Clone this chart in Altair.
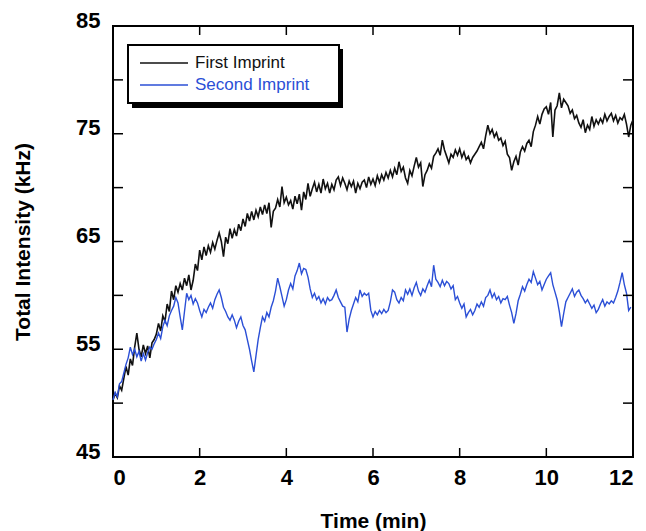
import altair as alt
import pandas as pd

# sampling: every 0.05 min
step = 0.05

first_imprint = [
    50.3, 50.9, 50.5, 51.6, 51.2,
    52.3, 53.4, 52.6, 54.1, 53.5,
    55.2, 56.5, 55.0, 54.3, 55.4,
    54.6, 55.3, 54.2, 55.6, 55.9,
    56.4, 57.4, 56.7, 58.1, 57.6,
    59.2, 58.5, 60.4, 59.6, 60.9,
    60.3, 61.1, 60.5, 61.6, 60.9,
    61.9, 60.5, 61.4, 62.9, 62.3,
    64.2, 63.3, 64.5, 63.7, 64.6,
    64.0, 64.9, 64.3, 65.1, 65.8,
    65.0, 63.6, 65.4, 64.8, 66.2,
    65.3, 66.1, 65.5, 66.6, 66.0,
    67.1, 66.4, 67.6, 66.9, 67.8,
    67.0, 67.9, 67.3, 68.2, 67.5,
    68.4, 67.6, 68.6, 66.3, 67.8,
    68.1, 68.9, 68.2, 70.1, 68.6,
    69.1, 68.4, 68.8, 68.0, 69.2,
    68.5, 69.4, 67.9, 69.6, 68.9,
    70.4, 69.2, 69.9, 70.5, 69.6,
    70.3, 69.5, 70.8, 69.9, 70.4,
    69.5, 70.3, 69.8, 70.7, 71.0,
    70.2, 70.9, 70.4, 69.8, 70.6,
    70.1, 70.6, 69.5, 70.4, 69.9,
    70.5, 70.7, 70.0, 71.0, 70.3,
    70.8, 70.2, 71.1, 70.5, 71.2,
    70.7, 71.4, 70.9, 71.6, 71.0,
    71.8, 71.2, 72.4, 71.5, 71.9,
    70.9, 70.4, 71.6, 71.1, 72.0,
    72.8, 71.9, 72.3, 70.1, 71.2,
    71.6, 72.2, 71.8, 72.9, 73.2,
    73.6, 73.0, 74.4, 73.5, 72.9,
    72.3, 73.1, 72.8, 73.5, 73.0,
    73.6, 72.8, 73.3, 72.6, 72.9,
    72.3, 72.8, 73.1, 73.4, 73.8,
    74.2, 73.6, 74.8, 75.8, 75.0,
    75.4, 74.7, 75.1, 74.4, 74.6,
    73.9, 74.3, 73.1, 72.8, 71.6,
    72.4, 72.9, 72.1, 73.3, 73.8,
    73.4, 74.1, 74.4, 73.8, 75.2,
    75.8, 76.6, 75.9, 76.8, 77.3,
    77.5, 76.8, 77.9, 74.7, 77.2,
    77.6, 78.8, 77.4, 78.2, 77.9,
    77.6, 76.9, 77.2, 76.4, 76.7,
    76.0, 75.6, 76.3, 75.1, 75.8,
    75.4, 76.6, 75.7, 76.3, 75.9,
    76.4, 76.0, 76.8, 76.2, 76.6,
    76.9, 76.2, 76.7, 76.0, 76.5,
    76.3, 76.8, 75.9, 74.7, 75.8,
    76.3,
]

second_imprint = [
    50.3, 51.0, 50.6, 51.8, 52.0,
    52.8, 53.6, 54.2, 55.2, 54.5,
    55.0, 54.3, 54.8, 53.9, 54.6,
    54.0, 54.7, 55.2, 55.0, 55.5,
    55.9, 56.5, 56.0, 57.1, 57.7,
    57.2, 58.1, 58.6, 59.0, 59.8,
    59.3, 58.0, 56.8, 58.5, 60.2,
    59.6, 60.0, 59.2, 59.7, 59.3,
    58.6, 58.0, 58.7, 58.4, 58.9,
    59.3, 58.8, 59.6, 60.1, 60.5,
    59.8, 58.9, 58.5, 58.0, 57.7,
    58.2, 57.7, 57.0, 57.6, 58.0,
    57.2, 56.8, 55.9, 55.0, 53.9,
    52.9, 54.4, 55.9, 57.0, 58.0,
    57.6, 58.4, 58.0, 58.9, 59.5,
    60.4, 61.6, 60.8, 59.9, 59.0,
    59.6, 60.5, 61.1, 60.6, 61.8,
    62.3, 63.0, 62.0, 62.5, 62.4,
    61.7, 60.6, 59.8, 60.2, 59.6,
    59.9, 59.3, 59.7, 59.2, 59.8,
    59.5, 59.6, 60.0, 60.5, 59.8,
    59.4, 59.0, 58.9, 56.6, 57.8,
    58.6, 59.2, 59.8, 59.4, 60.5,
    59.9, 60.2, 60.0, 60.2, 58.6,
    58.0, 58.5, 58.2, 58.6, 58.3,
    58.7, 58.4, 58.6, 59.4, 60.5,
    60.3, 59.6, 59.3, 59.8, 59.5,
    60.5, 60.1, 60.6, 60.0, 60.7,
    61.2, 60.4, 60.0, 60.6, 60.3,
    60.9, 61.4, 60.8, 62.8, 61.5,
    61.2, 60.8, 61.4, 60.9, 61.3,
    61.1, 60.6, 60.9, 59.6, 59.9,
    59.3, 58.8, 59.2, 58.0, 58.4,
    58.7, 58.2, 58.6, 59.2, 58.9,
    59.4, 59.0, 59.8, 60.0, 60.5,
    59.8, 60.2, 59.6, 59.9, 59.3,
    59.7, 59.6, 59.9, 59.1, 58.4,
    57.4, 58.3, 59.5, 60.1, 60.8,
    60.4, 61.0, 61.5, 61.2, 62.2,
    61.6, 61.0, 61.3, 60.5, 61.0,
    61.5, 61.8, 62.1, 61.0, 60.3,
    59.6, 58.5, 57.1, 58.3, 59.4,
    59.8, 60.2, 60.6, 59.9, 60.3,
    60.5, 60.0, 59.7, 59.3, 59.6,
    59.2, 58.8, 59.1, 58.4, 58.7,
    59.2, 59.6, 59.0, 59.4, 59.2,
    59.5, 59.3, 59.8, 60.4, 61.2,
    62.1, 61.0, 60.2, 58.6, 58.9,
]

series_names = ["First Imprint", "Second Imprint"]
series_colors = ["#111111", "#2b4fd6"]
x_label_values = [0, 2, 4, 6, 8, 10, 12]
y_label_values = [45, 55, 65, 75, 85]
x_tick_values = [2, 4, 6, 8, 10]
y_tick_values = [50, 55, 60, 65, 70, 75, 80]

rows = []
for name, vals in zip(series_names, [first_imprint, second_imprint]):
    for i, v in enumerate(vals):
        rows.append({"time": round(i * step, 2), "intensity": v, "series": name})
df = pd.DataFrame(rows)

W, H = 520, 431
FONT = "Liberation Sans"

x_scale = alt.Scale(domain=[0, 12], nice=False, zero=False)
y_scale = alt.Scale(domain=[45, 85], nice=False, zero=False)

lines = alt.Chart(df).mark_line().encode(
    x=alt.X("time:Q", scale=x_scale,
            axis=alt.Axis(values=x_label_values, title="Time (min)",
                          labelPadding=10, titleY=70,
                          titleBaseline="alphabetic")),
    y=alt.Y("intensity:Q", scale=y_scale,
            axis=alt.Axis(values=y_label_values, title="Total Intensity (kHz)",
                          labelPadding=13, labelBaseline="alphabetic", labelOffset=1,
                          titleX=-84, titleY=H / 2, titleBaseline="alphabetic")),
    color=alt.Color("series:N", scale=alt.Scale(domain=series_names, range=series_colors),
                    legend=None),
    strokeWidth=alt.StrokeWidth("series:N",
                                scale=alt.Scale(domain=series_names, range=[1.6, 1.4]),
                                legend=None),
    order=alt.Order("series:N"),
)

xt = pd.DataFrame({"time": x_tick_values})
yt = pd.DataFrame({"intensity": y_tick_values})

x_bottom = alt.Chart(xt).mark_rule(color="black", strokeWidth=1.5).encode(
    x="time:Q", y=alt.value(H), y2=alt.value(H - 9))
x_top = alt.Chart(xt).mark_rule(color="black", strokeWidth=1.5).encode(
    x="time:Q", y=alt.value(0), y2=alt.value(9))
y_left = alt.Chart(yt).mark_rule(color="black", strokeWidth=1.5).encode(
    y="intensity:Q", x=alt.value(0), x2=alt.value(10))
y_right = alt.Chart(yt).mark_rule(color="black", strokeWidth=1.5).encode(
    y="intensity:Q", x=alt.value(W), x2=alt.value(W - 10))

# legend box (drawn by hand, with a drop shadow)
one = pd.DataFrame({"k": [0]})
leg_shadow = alt.Chart(one).mark_rect(color="black").encode(
    x=alt.value(19), x2=alt.value(230), y=alt.value(23), y2=alt.value(82))
leg_box = alt.Chart(one).mark_rect(fill="white", stroke="black", strokeWidth=2).encode(
    x=alt.value(15), x2=alt.value(226), y=alt.value(19), y2=alt.value(77))
leg_lines = []
leg_texts = []
for i, (name, col) in enumerate(zip(series_names, series_colors)):
    yy = 37 + 22 * i
    leg_lines.append(alt.Chart(one).mark_rule(color=col, strokeWidth=1.3).encode(
        x=alt.value(27), x2=alt.value(75), y=alt.value(yy)))
    leg_texts.append(alt.Chart(one).mark_text(
        text=name, color=col, font=FONT, fontSize=17, align="left",
        baseline="middle").encode(x=alt.value(82), y=alt.value(yy)))

chart = alt.layer(
    lines, x_bottom, x_top, y_left, y_right,
    leg_shadow, leg_box, *leg_lines, *leg_texts,
).properties(
    width=W, height=H,
    autosize="none",
    padding={"left": 113, "top": 26, "right": 13, "bottom": 74},
    background="white",
).configure_view(
    stroke="black", strokeWidth=2,
).configure_axis(
    grid=False, domain=False, ticks=False,
    labelFont=FONT, labelFontSize=22, labelFontWeight="bold", labelColor="black",
    titleFont=FONT, titleFontSize=21, titleFontWeight="bold", titleColor="black",
)

chart.save("out.html", embed_options={"renderer": "svg", "actions": False})
